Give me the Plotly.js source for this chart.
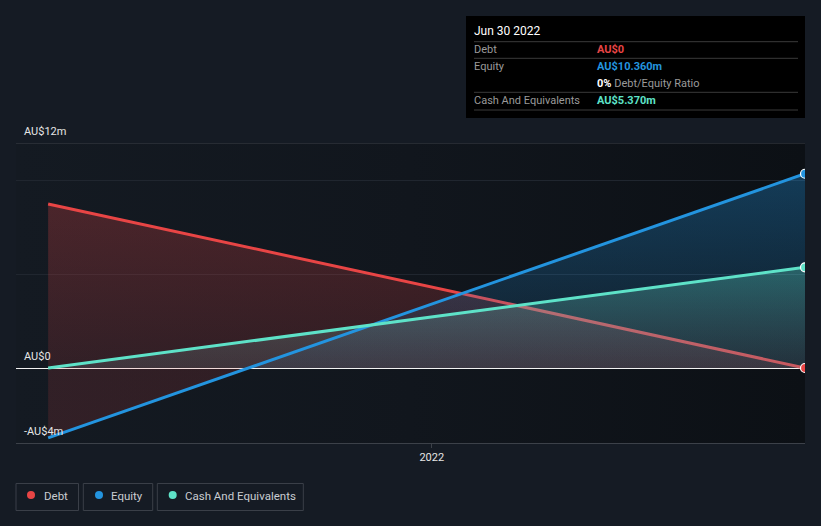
<!DOCTYPE html>
<html><head><meta charset="utf-8">
<script src="https://cdn.plot.ly/plotly-3.0.1.min.js"></script>
<style>
html,body{margin:0;padding:0;background:#151b24;}
#wrap{position:relative;width:821px;height:526px;}
#bg{position:absolute;left:16px;top:143px;width:789px;height:300px;background:linear-gradient(to right,#141a22 0%,#11161d 50%,#0c1015 100%);}
#chart{position:absolute;left:0;top:0;width:821px;height:526px;}
</style>
</head><body>
<div id="wrap"><div id="bg"></div><div id="chart"></div></div>
<script>
// ---- data (AU$ millions) ----
const dates = ['2021-06-30', '2022-06-30'];
const debt = [8.75, 0];
const equity = [-3.73, 10.36];
const cash = [0, 5.37];
const yTickVals = [12, 0, -4];
const yTickLabels = ['AU$12m', 'AU$0', '-AU$4m'];
const xTickVals = ['2022-01-01'];
const xTickLabels = ['2022'];
const seriesNames = ['Debt', 'Equity', 'Cash And Equivalents'];
const tipDate = 'Jun 30 2022';
const tipValues = ['AU$0', 'AU$10.360m', 'AU$5.370m'];
const tipRatio = '0%';

const C_DEBT = '#e84545', C_EQ = '#2394df', C_CASH = '#5ee2c8';
const W = 821, H = 526, L = 16, R = 16, T = 143, B = 83;
const pw = W - L - R, ph = H - T - B;
const px = v => (v - L) / pw;
const py = v => (H - B - v) / ph;
const last = a => a[a.length - 1];

const eqMin = Math.min(...equity), eqMax = Math.max(...equity);
const z0 = (0 - eqMin) / (eqMax - eqMin);

const traces = [
  {x: dates, y: debt, type: 'scatter', mode: 'lines', fill: 'tozeroy',
   line: {color: C_DEBT, width: 3},
   fillgradient: {type: 'vertical', start: 0, stop: Math.max(...debt),
     colorscale: [[0, 'rgba(232,69,69,0.14)'], [1, 'rgba(232,69,69,0.26)']]},
   hoverinfo: 'skip', showlegend: false},
  {x: dates, y: equity, type: 'scatter', mode: 'lines', fill: 'tozeroy',
   line: {width: 0, color: 'rgba(0,0,0,0)'},
   fillgradient: {type: 'vertical', start: eqMin, stop: eqMax,
     colorscale: [[0, 'rgba(232,69,69,0.14)'], [z0, 'rgba(232,69,69,0.14)'],
                  [Math.min(1, z0 + 0.001), 'rgba(35,148,223,0.08)'], [1, 'rgba(35,148,223,0.33)']]},
   hoverinfo: 'skip', showlegend: false},
  {x: dates, y: cash, type: 'scatter', mode: 'lines', fill: 'tozeroy',
   line: {width: 0, color: 'rgba(0,0,0,0)'},
   fillgradient: {type: 'vertical', start: 0, stop: Math.max(...cash),
     colorscale: [[0, 'rgba(130,150,160,0.18)'], [1, 'rgba(94,226,200,0.30)']]},
   hoverinfo: 'skip', showlegend: false},
  {x: dates, y: equity, type: 'scatter', mode: 'lines', line: {color: C_EQ, width: 3},
   hoverinfo: 'skip', showlegend: false},
  {x: dates, y: cash, type: 'scatter', mode: 'lines', line: {color: C_CASH, width: 3},
   hoverinfo: 'skip', showlegend: false},
  {x: [last(dates)], y: [last(debt)], type: 'scatter', mode: 'markers',
   marker: {color: C_DEBT, size: 9, line: {color: '#ffffff', width: 1.2}}, hoverinfo: 'skip', showlegend: false},
  {x: [last(dates)], y: [last(equity)], type: 'scatter', mode: 'markers',
   marker: {color: C_EQ, size: 9, line: {color: '#ffffff', width: 1.2}}, hoverinfo: 'skip', showlegend: false},
  {x: [last(dates)], y: [last(cash)], type: 'scatter', mode: 'markers',
   marker: {color: C_CASH, size: 9, line: {color: '#ffffff', width: 1.2}}, hoverinfo: 'skip', showlegend: false}
];

const font = 'Roboto, "Open Sans", sans-serif';
const annotations = [];
const shapes = [];

// y labels
yTickVals.forEach((v, i) => {
  annotations.push({xref: 'paper', yref: 'y', x: px(22), y: v, yshift: 12,
    text: yTickLabels[i], showarrow: false, xanchor: 'left', yanchor: 'middle',
    font: {family: font, size: 11, color: '#e6e6e6'}});
});
// top line at 12
shapes.push({type: 'line', xref: 'paper', yref: 'y', x0: 0, x1: 1, y0: 12, y1: 12,
  line: {color: '#3c4149', width: 1}, layer: 'below'});

// tooltip box
shapes.push({type: 'rect', xref: 'paper', yref: 'paper', x0: px(466), x1: px(805), y0: py(118), y1: py(16),
  fillcolor: '#000000', line: {width: 0}});
[41.7, 58.3, 92.3, 110].forEach(yy => shapes.push({type: 'line', xref: 'paper', yref: 'paper',
  x0: px(474), x1: px(798), y0: py(yy), y1: py(yy), line: {color: '#3a3a3a', width: 1}}));
annotations.push({xref: 'paper', yref: 'paper', x: px(472), y: py(31), text: tipDate, showarrow: false,
  xanchor: 'left', yanchor: 'middle', font: {family: font, size: 12, color: '#ffffff'}});
const rowsY = [49.5, 66, 100];
const rowColors = [C_DEBT, C_EQ, C_CASH];
seriesNames.forEach((n, i) => {
  annotations.push({xref: 'paper', yref: 'paper', x: px(472), y: py(rowsY[i]), text: n, showarrow: false,
    xanchor: 'left', yanchor: 'middle', font: {family: font, size: 11, color: '#9a9a9a'}});
  annotations.push({xref: 'paper', yref: 'paper', x: px(595), y: py(rowsY[i]), text: '<b>' + tipValues[i] + '</b>', showarrow: false,
    xanchor: 'left', yanchor: 'middle', font: {family: font, size: 11, color: rowColors[i]}});
});
annotations.push({xref: 'paper', yref: 'paper', x: px(595), y: py(83), showarrow: false,
  text: '<b><span style="color:#ffffff">' + tipRatio + '</span></b> Debt/Equity Ratio',
  xanchor: 'left', yanchor: 'middle', font: {family: font, size: 11, color: '#9a9a9a'}});

// legend boxes
const legBoxes = [[16, 78.5], [83.3, 152.7], [157.3, 303.3]];
const legDots = [31, 99, 172.7];
const legText = [42.3, 109.3, 183.3];
seriesNames.forEach((n, i) => {
  shapes.push({type: 'rect', xref: 'paper', yref: 'paper', x0: px(legBoxes[i][0]), x1: px(legBoxes[i][1]),
    y0: py(510.5), y1: py(483.5), line: {color: '#3a3f48', width: 1}, fillcolor: 'rgba(0,0,0,0)'});
  shapes.push({type: 'circle', xref: 'paper', yref: 'paper', x0: px(legDots[i] - 4), x1: px(legDots[i] + 4),
    y0: py(499), y1: py(491), line: {width: 0}, fillcolor: rowColors[i]});
  annotations.push({xref: 'paper', yref: 'paper', x: px(legText[i]), y: py(496), text: n, showarrow: false,
    xanchor: 'left', yanchor: 'middle', font: {family: font, size: 11.5, color: '#c9ccd1'}});
});

const layout = {
  width: W, height: H,
  margin: {l: L, r: R, t: T, b: B, pad: 0},
  paper_bgcolor: 'rgba(0,0,0,0)', plot_bgcolor: 'rgba(0,0,0,0)',
  showlegend: false,
  xaxis: {type: 'date', range: ['2021-06-14 12:00', '2022-06-30'], showgrid: false, zeroline: false,
    showline: true, linecolor: '#3c4149', linewidth: 1,
    tickvals: xTickVals, ticktext: xTickLabels, ticks: 'outside', ticklen: 4, tickcolor: '#3c4149',
    tickfont: {family: font, size: 11, color: '#e6e6e6'}, fixedrange: true},
  yaxis: {range: [-4, 12], tickvals: [0, 5, 10], showticklabels: false, showgrid: true,
    gridcolor: '#20262f', gridwidth: 1, zeroline: true, zerolinecolor: '#f2f2f2', zerolinewidth: 1,
    showline: false, ticks: '', fixedrange: true},
  shapes: shapes, annotations: annotations,
  hovermode: false
};
Plotly.newPlot('chart', traces, layout, {displayModeBar: false, staticPlot: true});
</script>
</body></html>
